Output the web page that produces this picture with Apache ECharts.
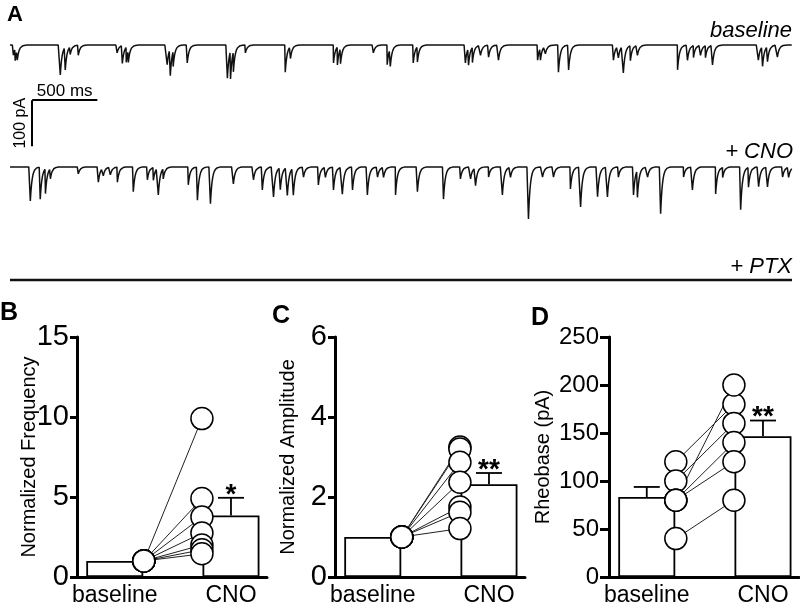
<!DOCTYPE html>
<html><head><meta charset="utf-8">
<script src="https://cdn.jsdelivr.net/npm/echarts@6/dist/echarts.min.js"></script>
<style>html,body{margin:0;padding:0;background:#fff}#c{width:800px;height:607px}</style>
</head><body><div id="c"></div>
<script>
// ================= DATA =================
// Panel A: sPSC events: [time (ms), amplitude (pA)]
const traceStart = 0, traceEnd = 6000; // ms
const baselineEvents = [
 [24,22],[38,26],[54,22],
 [384,65],[422,50],[460,17],[522,22],
 [820,17],[860,39],[890,33],[906,26],
 [1204,43],[1228,59],[1250,33],[1358,39],
 [1666,72],[1690,61],[1712,43],[1804,17],
 [2110,59],[2150,26],
 [2480,39],[2510,39],[2534,33],
 [2786,17],[2892,43],[2916,39],
 [3092,39],[3124,33],
 [3492,39],[3516,37],[3546,33],[3608,22],[3670,26],[3746,33],
 [4046,33],[4068,26],[4106,17],[4206,59],[4284,54],
 [4628,33],[4666,26],[4704,59],[4758,33],[4812,22],
 [5120,54],[5196,33],[5242,26],[5296,22],[5334,26],[5388,43],
 [5740,33],[5772,43],[5810,33],[5886,26]
];
const cnoEvents = [
 [154,74],[230,70],[270,54],[308,22],[522,15],[676,33],[714,17],[768,17],[822,33],[944,54],
 [1052,28],[1098,28],[1136,59],[1174,22],[1366,39],[1436,72],[1536,80],[1712,37],[1866,28],[1934,50],
 [2020,65],[2072,48],[2126,61],[2172,59],[2250,22],[2364,39],[2418,22],[2480,50],[2548,59],[2626,50],
 [2740,61],[2818,22],[2864,22],[2956,61],[3124,54],[3324,70],[3454,26],[3532,26],[3570,39],[3670,22],
 [3776,61],[3838,22],[3976,113],[4084,22],[4168,22],[4298,48],[4376,87],[4506,65],[4582,65],[4666,22],
 [4782,61],[4812,59],[4890,22],[4990,102],[5166,22],[5234,50],[5412,59],[5466,22],[5604,93],[5664,43],
 [5742,43],[5810,43],[5926,22],[5972,22]
];
const ptxEvents = [];
const traceLabels = ['baseline', '+ CNO', '+ PTX'];
const scaleBarTime = 500;    // ms
const scaleBarCurrent = 100; // pA

// Panels B-D
const conditions = ['baseline', 'CNO'];
const freqBaseline = [1, 1, 1, 1, 1, 1, 1];
const freqCNO      = [9.9, 4.9, 3.75, 2.75, 2.0, 1.7, 1.45];
const freqMean = [1, 3.85], freqUpper = [1, 4.95], freqStars = ['', '*'];
const ampBaseline = [1, 1, 1, 1, 1, 1, 1];
const ampCNO      = [3.25, 3.2, 2.87, 2.37, 1.75, 1.62, 1.21];
const ampMean = [1, 2.32], ampUpper = [1, 2.6], ampStars = ['', '**'];
const rheoBaseline = [120, 100, 80, 80, 80, 40];
const rheoCNO      = [180, 160, 200, 140, 120, 80];
const rheoMean = [83.3, 146.7], rheoUpper = [93.8, 163], rheoStars = ['', '**'];

// ================= LAYOUT =================
const FONT = '"Liberation Sans", Arial, Helvetica, sans-serif';
const offsets = [0, -265, -511]; // vertical placement of the three traces (pA units)
const scaleBarAt = [170, -120];
const X_BAR = [1, 3], X_PT = [1.5, 2.5];

function buildTrace(events, offset) {
  const pts = [];
  for (let t = traceStart; t <= traceEnd; t += 2) {
    let v = 0;
    for (const [te, a] of events) {
      const dt = t - te;
      if (dt < 0 || dt > 180) continue;
      v -= dt < 2 ? a * dt / 2 : a * Math.exp(-(dt - 2) / 14);
    }
    pts.push([t, offset + v]);
  }
  return pts;
}

const chart = echarts.init(document.getElementById('c'), null, {renderer: 'canvas'});

const panels = [
  {name: 'Normalized Frequency', base: freqBaseline, cno: freqCNO, mean: freqMean, upper: freqUpper, stars: freqStars,
   max: 15, interval: 5, left: 77, gap: 38, tickFont: 29, tickLen: 7},
  {name: 'Normalized Amplitude', base: ampBaseline, cno: ampCNO, mean: ampMean, upper: ampUpper, stars: ampStars,
   max: 6, interval: 2, left: 335, gap: 37, tickFont: 29, tickLen: 7},
  {name: 'Rheobase (pA)', base: rheoBaseline, cno: rheoCNO, mean: rheoMean, upper: rheoUpper, stars: rheoStars,
   max: 250, interval: 50, left: 609, gap: 56, tickFont: 24, tickLen: 9}
];

const grids = [{left: 10, top: 22, width: 782, height: 276}];
const xAxes = [{gridIndex: 0, type: 'value', min: 0, max: 6000, show: false}];
const yAxes = [{gridIndex: 0, type: 'value', min: -550, max: 50, show: false}];
const series = [];

[baselineEvents, cnoEvents, ptxEvents].forEach((ev, i) => {
  series.push({type: 'line', xAxisIndex: 0, yAxisIndex: 0, showSymbol: false, silent: true,
    data: buildTrace(ev, offsets[i]), lineStyle: {color: '#111', width: i === 2 ? 2.4 : 1.5}, z: 2});
});
series.push({type: 'lines', coordinateSystem: 'cartesian2d', xAxisIndex: 0, yAxisIndex: 0, z: 3,
  lineStyle: {color: '#000', width: 2, opacity: 1},
  label: {show: true, position: 'middle', distance: 0, color: '#000', fontFamily: FONT, fontSize: 17},
  data: [
    {coords: [scaleBarAt, [scaleBarAt[0] + scaleBarTime, scaleBarAt[1]]], label: {formatter: scaleBarTime + ' ms'}},
    {coords: [[scaleBarAt[0], scaleBarAt[1] - scaleBarCurrent], scaleBarAt],
     label: {formatter: scaleBarCurrent + ' pA', fontSize: 16, distance: 4}}
  ]});

panels.forEach((p, k) => {
  const gi = k + 1;
  grids.push({left: p.left, top: 337, width: 190, height: 240});
  xAxes.push({gridIndex: gi, type: 'value', min: 0.35, max: 3.62,
    axisLine: {show: true, onZero: false, lineStyle: {color: '#000', width: 3}},
    axisTick: {show: false}, splitLine: {show: false},
    axisLabel: {show: true, customValues: X_BAR, formatter: v => v < 2 ? conditions[0] : conditions[1],
      color: '#000', fontFamily: FONT, fontSize: 23, margin: 7}});
  yAxes.push({gridIndex: gi, type: 'value', min: 0, max: p.max, interval: p.interval,
    name: p.name, nameLocation: 'middle', nameRotate: 90, nameGap: p.gap, nameMoveOverlap: false,
    nameTextStyle: {color: '#000', fontFamily: FONT, fontSize: 20},
    axisLine: {show: true, onZero: false, lineStyle: {color: '#000', width: 3}},
    axisTick: {show: true, length: p.tickLen, lineStyle: {color: '#000', width: 3}},
    splitLine: {show: false},
    axisLabel: {color: '#000', fontFamily: FONT, fontSize: p.tickFont, margin: p.tickLen + 1}});
  series.push({type: 'bar', xAxisIndex: gi, yAxisIndex: gi, barWidth: 57, z: 1,
    data: p.mean.map((m, i) => [X_BAR[i], m]),
    itemStyle: {color: '#fff', borderColor: '#000', borderWidth: 1.8}});
  series.push({type: 'custom', xAxisIndex: gi, yAxisIndex: gi, z: 2,
    data: p.mean.map((m, i) => [X_BAR[i], m, p.upper[i]]),
    renderItem: (params, api) => {
      const x = api.value(0), m = api.value(1), u = api.value(2);
      const a = api.coord([x, m]), b = api.coord([x, u]);
      const st = {stroke: '#000', lineWidth: 1.8};
      const ch = [];
      if (u > m) {
        ch.push({type: 'line', shape: {x1: a[0], y1: a[1], x2: b[0], y2: b[1]}, style: st});
        ch.push({type: 'line', shape: {x1: b[0] - 13, y1: b[1], x2: b[0] + 13, y2: b[1]}, style: st});
      }
      const s = p.stars[params.dataIndex];
      if (s) ch.push({type: 'text', x: b[0], y: b[1] - 3,
        style: {text: s, font: 'bold 28px ' + FONT, textAlign: 'center', textVerticalAlign: 'middle', fill: '#000'}});
      return {type: 'group', children: ch};
    }});
  series.push({type: 'lines', coordinateSystem: 'cartesian2d', xAxisIndex: gi, yAxisIndex: gi, z: 3,
    lineStyle: {color: '#222', width: 1, opacity: 1},
    data: p.base.map((b, i) => ({coords: [[X_PT[0], b], [X_PT[1], p.cno[i]]]}))});
  series.push({type: 'scatter', xAxisIndex: gi, yAxisIndex: gi, z: 4, symbolSize: 22,
    itemStyle: {color: '#fff', borderColor: '#000', borderWidth: 1.5, opacity: 1},
    data: p.base.map(b => [X_PT[0], b]).concat(p.cno.map(c => [X_PT[1], c]))});
});

const letter = (t, l, tp, fs) => ({type: 'text', left: l, top: tp, style: {text: t, font: 'bold ' + fs + 'px ' + FONT, fill: '#000'}});
const tlabel = (t, r, tp) => ({type: 'text', right: r, top: tp, style: {text: t, font: 'italic 22px ' + FONT, fill: '#000'}});

chart.setOption({
  animation: false,
  backgroundColor: '#fff',
  grid: grids, xAxis: xAxes, yAxis: yAxes, series: series,
  graphic: [
    letter('A', 7, 4, 22), letter('B', 0, 301, 25), letter('C', 272, 304, 25), letter('D', 531, 306, 25),
    tlabel(traceLabels[0], 8, 20), tlabel(traceLabels[1], 7, 141), tlabel(traceLabels[2], 8, 256)
  ]
});
</script></body></html>
